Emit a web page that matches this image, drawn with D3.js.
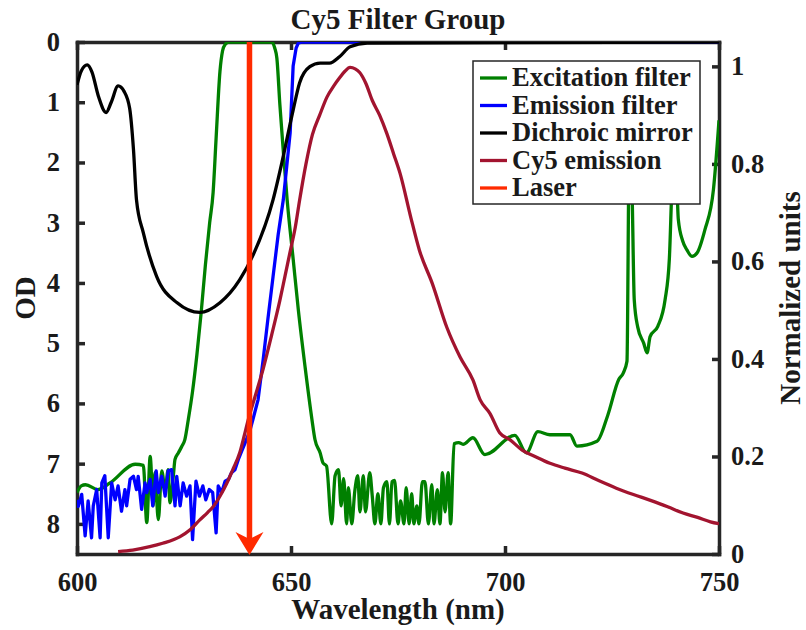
<!DOCTYPE html>
<html>
<head>
<meta charset="utf-8">
<script src="https://cdn.jsdelivr.net/npm/d3@7"></script>
<style>
body{margin:0;background:#fff;}
svg text{font-family:"Liberation Serif","Times New Roman",serif;font-weight:bold;fill:#1a1a1a;}
</style>
</head>
<body>
<div id="chart"></div>
<script>

// ---- data ----
const xTicks = [600, 650, 700, 750];
const odTicks = [0, 1, 2, 3, 4, 5, 6, 7, 8];
const normTicks = [0, 0.2, 0.4, 0.6, 0.8, 1];

const seriesNames = ["Excitation filter", "Emission filter", "Dichroic mirror", "Cy5 emission", "Laser"];
const seriesColors = ["#008000", "#0000ff", "#000000", "#a2142f", "#ff2a00"];

const laserNm = 640.3;

// excitation filter (OD, left axis)
const excitationNm = [600, 601, 602, 604.9, 607.7, 613.6, 615.5,
	616.3, 617.1, 617.8, 618.2, 619, 619.8, 620.6, 621.3, 621.7, 622.5, 622.9, 623.7, 624.5, 625.2,
	626, 627, 628, 629, 630, 631, 631.8, 632.5, 633.4, 634, 634.6, 635.5, 645.5, 646.2, 646.7, 647.4, 648.2,
	649.1, 650.5, 651.7, 653.3, 654.9, 655.6, 656.8, 657.5, 658.3,
	659.5, 660.3, 661.1, 661.7, 662.3, 663, 663.4, 664.2, 664.9, 665.6, 666.1, 666.9, 667.4, 668.4, 669,
	669.6, 670.3, 671, 671.6, 672.4, 673, 673.6, 674.2, 675, 675.6, 676.4, 676.9, 677.6, 678.2, 678.7,
	679.4, 679.9, 680.7, 681.3, 682.1, 682.9, 683.4, 684.2, 684.8, 685.4, 686, 686.7, 687.3,
	688.1, 689.2, 690.2, 692.5, 695.3, 702.3, 705, 707.7, 710.5, 715.2, 716.8, 721.5, 724, 726.6, 727.6,
	728.5, 729, 729.3, 729.7, 730.2, 731, 732.4, 733.2, 733.9, 735.7, 737.4, 738.4, 739, 739.7, 740.5,
	741.5, 742.5, 743.7, 744.9, 746.7, 748.7, 750];
const excitationOD = [7.48, 7.37, 7.35, 7.43, 7.32, 7.01, 7.03,
	7.98, 6.88, 7.7, 7.15, 7.93, 7.12, 7.43, 7.1, 7.65, 7.21, 6.93, 6.82, 6.71, 6.6,
	6.27, 5.8, 5.2, 4.5, 3.7, 3.0, 2.5, 1.6, 0.49, 0.15, 0.04, 0, 0, 0.1, 0.27, 1.04, 1.81,
	2.62, 3.6, 4.44, 5.4, 6.27, 6.6, 6.82, 6.99, 7.04,
	8.0, 7.2, 7.1, 7.7, 7.25, 8.0, 7.4, 8.0, 7.46, 7.2, 7.8, 7.2, 7.8, 7.15, 7.55,
	8.0, 7.5, 8.0, 7.4, 7.3, 8.0, 7.3, 7.28, 8.0, 7.62, 8.0, 7.4, 8.0, 7.5, 8.0,
	7.7, 8.0, 7.3, 7.3, 8.0, 7.35, 8.0, 7.43, 8.0, 7.15, 7.8, 7.15, 8.0,
	6.67, 6.65, 6.68, 6.57, 6.85, 6.53, 6.82, 6.47, 6.52, 6.52, 6.71, 6.63, 6.2, 5.6, 5.5,
	5.3, 1.8, 1.5, 2.5, 4.28, 4.73, 5.0, 5.16, 4.89, 4.72, 4.28, 3.6, 2.4, 1.5, 2.95,
	3.3, 3.45, 3.56, 3.5, 3.12, 2.45, 1.3];

// emission filter (OD, left axis)
const emissionNm = [600, 600.3, 601.1, 601.9, 602.6, 603.4, 603.8, 604.6, 605.4, 605.8, 606.5, 607.3, 608.1,
	608.9, 609.6, 610.4, 611.2, 611.6, 612.4, 613.2, 613.9, 614.3, 615.1, 615.9, 616.3, 617.1, 617.7,
	618.5, 619, 619.8, 620.6, 621.3, 622.1, 622.9, 623.3, 624.1, 624.8, 625.6, 626.4, 627, 627.8, 628.6,
	629.4, 630.1, 630.9, 631.7, 632.5, 633, 633.8, 634.6, 635.4, 636.1, 636.9, 637.7, 638.5, 639.3,
	640.4, 641.1, 642.3, 643.5, 644.6, 645.8, 647, 648.2, 649, 649.8, 650.5, 651.2, 651.7, 652.5, 750];
const emissionOD = [7.6, 7.71, 7.51, 8.2, 7.62, 8.23, 7.7, 7.43, 8.23, 7.32, 7.2, 8.23, 7.32,
	7.6, 7.37, 7.79, 7.43, 7.7, 7.26, 7.21, 7.43, 7.21, 7.76, 7.32, 7.48, 7.26, 7.7,
	7.12, 7.48, 7.21, 7.54, 7.12, 7.1, 7.7, 7.21, 7.7, 7.32, 7.54, 7.37, 8.26, 7.29, 7.54,
	7.37, 7.6, 7.43, 7.48, 8.15, 7.37, 7.48, 7.29, 7.26, 7.15, 7.1, 6.93, 6.79, 6.65,
	6.45, 6.27, 5.94, 5.27, 4.6, 3.9, 3.2, 2.62, 2.07, 1.51, 0.4, 0.1, 0.02, 0, 0];

// dichroic mirror (OD, left axis)
const dichroicNm = [600, 601, 602.4, 603.5, 605, 606.8, 608, 609.6, 611, 612.3, 613.2, 613.9, 615.5,
	618.6, 623.4, 628.7, 633.4, 638, 641, 645.8, 648, 650.5, 652, 654.4, 656.8, 659, 661.4, 663.8,
	667.8, 750];
const dichroicOD = [0.71, 0.48, 0.38, 0.5, 0.9, 1.17, 1.0, 0.73, 0.82, 1.1, 1.79, 2.62, 3.17,
	3.89, 4.33, 4.49, 4.33, 3.95, 3.56, 2.62, 1.96, 1.13, 0.68, 0.41, 0.35, 0.35, 0.24, 0.08,
	0.02, 0];

// Cy5 emission (normalized, right axis)
const cy5Nm = [609.6, 613, 617, 620, 624, 626.5, 628.7, 630.5, 631.8, 633.5, 635, 636.5, 638, 639, 640,
	641.5, 643.5, 645.5, 647.4, 648.6, 649.8, 651, 652, 653.5, 655, 656.7, 658.4, 660, 661.4, 662.6,
	663.8, 665, 666, 667.5, 669, 670.7, 672.4, 674, 675.5, 678, 680, 683, 686.4, 689.5, 692.5, 694.2,
	696.5, 698.8, 701.2, 704, 707, 710.5, 714, 718, 722, 726, 730, 734, 738, 741.6, 745, 748, 750];
const cy5Norm = [0.005, 0.008, 0.015, 0.022, 0.035, 0.05, 0.07, 0.085, 0.097, 0.12, 0.145, 0.175, 0.207, 0.24, 0.275,
	0.32, 0.38, 0.45, 0.52, 0.57, 0.62, 0.67, 0.725, 0.8, 0.86, 0.9, 0.937, 0.96, 0.977, 0.99,
	0.998, 0.995, 0.988, 0.965, 0.93, 0.9, 0.862, 0.82, 0.78, 0.69, 0.623, 0.555, 0.465, 0.404, 0.357, 0.316,
	0.288, 0.248, 0.234, 0.213, 0.2, 0.186, 0.176, 0.166, 0.15, 0.135, 0.122, 0.11, 0.097, 0.084, 0.075, 0.066, 0.062];


function drawChart(){

	//sizing
	const width = 806, height = 630;
	const margin = {top: 42, right: 87, bottom: 76, left: 77};
	const innerW = width - margin.left - margin.right;
	const innerH = height - margin.top - margin.bottom;
	const axisColor = "#262626";

	let svg = d3.select("#chart")
		.append("svg")
		.attr("width", width)
		.attr("height", height);

	let x = d3.scaleLinear().domain([600, 750]).range([margin.left, margin.left + innerW]);
	let yL = d3.scaleLinear().domain([0, 8.5]).range([margin.top, margin.top + innerH]);
	let yR = d3.scaleLinear().domain([0, 1.05]).range([margin.top + innerH, margin.top]);

	//axes
	function styleAxis(g, size){
		g.attr("font-size", size);
		g.select(".domain").attr("stroke", axisColor).attr("stroke-width", 3.5).attr("stroke-linecap", "square");
		g.selectAll(".tick line").attr("stroke", axisColor).attr("stroke-width", 3.5);
	}

	svg.append("g")
		.attr("transform", "translate(0," + (margin.top + innerH) + ")")
		.call(d3.axisBottom(x).tickValues(xTicks).tickSize(-8).tickSizeOuter(0).tickFormat(d3.format("d")))
		.call(g => styleAxis(g, 26.5))
		.call(g => g.selectAll("text").attr("dy", null).attr("y", 37));

	svg.append("g")
		.attr("transform", "translate(0," + margin.top + ")")
		.call(d3.axisTop(x).tickValues(xTicks).tickSize(-8).tickSizeOuter(0).tickFormat(""))
		.call(g => styleAxis(g, 26.5));

	svg.append("g")
		.attr("transform", "translate(" + margin.left + ",0)")
		.call(d3.axisLeft(yL).tickValues(odTicks).tickSize(-8).tickSizeOuter(0).tickPadding(17).tickFormat(d3.format("d")))
		.call(g => styleAxis(g, 26.5));

	svg.append("g")
		.attr("transform", "translate(" + (margin.left + innerW) + ",0)")
		.call(d3.axisRight(yR).tickValues(normTicks).tickSize(-7).tickSizeOuter(0).tickPadding(12).tickFormat(d3.format("~g")))
		.call(g => styleAxis(g, 26.5));

	//clip for data lines
	svg.append("clipPath").attr("id", "plot-clip")
		.append("rect")
		.attr("x", margin.left).attr("y", margin.top)
		.attr("width", innerW).attr("height", innerH);

	let plot = svg.append("g").attr("clip-path", "url(#plot-clip)");

	// smooth curves for the filter edges, straight segments for the noisy emission filter
	let lineL = d3.line().x(d => x(d[0])).y(d => yL(d[1])).curve(d3.curveMonotoneX);
	let lineLraw = d3.line().x(d => x(d[0])).y(d => yL(d[1]));
	let lineR = d3.line().x(d => x(d[0])).y(d => yR(d[1])).curve(d3.curveMonotoneX);

	const curves = [
		{data: d3.zip(excitationNm, excitationOD), line: lineL, color: seriesColors[0]},
		{data: d3.zip(emissionNm, emissionOD), line: lineLraw, color: seriesColors[1]},
		{data: d3.zip(dichroicNm, dichroicOD), line: lineL, color: seriesColors[2]},
		{data: d3.zip(cy5Nm, cy5Norm), line: lineR, color: seriesColors[3]}
	];

	curves.forEach(c => {
		plot.append("path")
			.datum(c.data)
			.attr("fill", "none")
			.attr("stroke", c.color)
			.attr("stroke-width", 3.3)
			.attr("stroke-linejoin", "round")
			.attr("d", c.line);
	});

	//laser arrow
	const lx = x(laserNm), yBottom = yR(0);
	plot.append("line")
		.attr("x1", lx).attr("x2", lx)
		.attr("y1", yL(0)).attr("y2", yBottom - 14)
		.attr("stroke", seriesColors[4])
		.attr("stroke-width", 5.5);
	svg.append("path")
		.attr("d", "M" + lx + "," + (yBottom + 1) +
			"L" + (lx - 14) + "," + (yBottom - 22) +
			"L" + lx + "," + (yBottom - 15) +
			"L" + (lx + 14) + "," + (yBottom - 22) + "Z")
		.attr("fill", seriesColors[4]);

	//title & axis labels
	svg.append("text")
		.attr("x", margin.left + innerW / 2).attr("y", 29)
		.attr("text-anchor", "middle").attr("font-size", 29)
		.text("Cy5 Filter Group");

	svg.append("text")
		.attr("x", margin.left + innerW / 2).attr("y", 619)
		.attr("text-anchor", "middle").attr("font-size", 29)
		.text("Wavelength (nm)");

	svg.append("text")
		.attr("transform", "translate(35," + (margin.top + innerH / 2) + ") rotate(-90)")
		.attr("text-anchor", "middle").attr("font-size", 29)
		.text("OD");

	svg.append("text")
		.attr("transform", "translate(800," + (margin.top + innerH / 2) + ") rotate(-90)")
		.attr("text-anchor", "middle").attr("font-size", 29)
		.text("Normalized units");

	//legend
	let legend = svg.append("g").attr("transform", "translate(473,61)");
	legend.append("rect")
		.attr("width", 227).attr("height", 143)
		.attr("fill", "#fff")
		.attr("stroke", axisColor)
		.attr("stroke-width", 1.5);

	seriesNames.forEach((name, i) => {
		let yy = 17 + i * 27.5;
		legend.append("line")
			.attr("x1", 7).attr("x2", 34)
			.attr("y1", yy).attr("y2", yy)
			.attr("stroke", seriesColors[i])
			.attr("stroke-width", 3.3);
		legend.append("text")
			.attr("x", 39).attr("y", yy + 8)
			.attr("font-size", 26.5)
			.text(name);
	});

} //function drawChart


drawChart();
</script>
</body>
</html>
